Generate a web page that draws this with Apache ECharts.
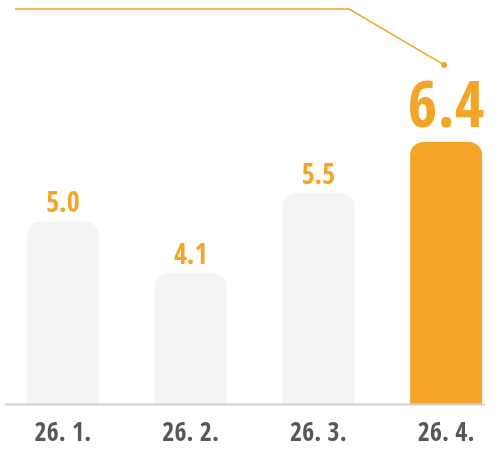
<!DOCTYPE html>
<html>
<head>
<meta charset="utf-8">
<script src="https://cdn.jsdelivr.net/npm/echarts@6/dist/echarts.min.js"></script>
<style>
  html, body { margin: 0; padding: 0; background: #fff; }
  #chart { width: 499px; height: 450px; }
</style>
</head>
<body>
<div id="chart"></div>
<script>
// Monthly values, last month highlighted
const months = ['26. 1.', '26. 2.', '26. 3.', '26. 4.'];
const values = [5.0, 4.1, 5.5, 6.4];

const ORANGE = '#F4A427';
const GREY_BAR = '#F4F4F4';
const FONT = '"Open Sans Condensed", "Roboto Condensed", sans-serif';

const lastIdx = values.length - 1;

const chart = echarts.init(document.getElementById('chart'), null, { renderer: 'canvas' });

const barData = values.map((v, i) => {
  const isLast = i === lastIdx;
  return {
    value: v,
    itemStyle: { color: isLast ? ORANGE : GREY_BAR },
    label: isLast
      ? { fontSize: 64, distance: 0 }
      : { fontSize: 28, distance: 3 }
  };
});

chart.setOption({
  animation: false,
  grid: { left: -1, width: 511, top: 5, height: 399.5, outerBoundsMode: 'none', containLabel: false },
  xAxis: {
    type: 'category',
    data: months,
    axisLine: { show: false },
    axisTick: { show: false },
    axisLabel: {
      margin: 17,
      color: '#575757',
      fontFamily: FONT,
      fontWeight: 'bold',
      fontSize: 26
    }
  },
  yAxis: {
    type: 'value',
    min: 1.8,
    max: 8.8,
    show: false,
    splitLine: { show: false }
  },
  series: [{
    type: 'bar',
    data: barData,
    barWidth: 72,
    itemStyle: { borderRadius: [13, 13, 0, 0] },
    label: {
      show: true,
      position: 'top',
      color: ORANGE,
      fontFamily: FONT,
      fontWeight: 'bold',
      formatter: p => p.value.toFixed(1)
    }
  }]
});

// Baseline and the leader line pointing at the highlighted value
const barTop = chart.convertToPixel({ gridIndex: 0 }, [lastIdx, values[lastIdx]]);
const base = chart.convertToPixel({ gridIndex: 0 }, [0, 1.8]);
const dot = [barTop[0] - 2, barTop[1] - 77];

chart.setOption({
  graphic: [
    {
      type: 'line',
      shape: { x1: 5, y1: base[1], x2: 485, y2: base[1] },
      style: { stroke: '#D0D0D0', lineWidth: 2 },
      z: 10
    },
    {
      type: 'polyline',
      shape: { points: [[15, 9], [dot[0] - 95, 9], dot] },
      style: { stroke: ORANGE, lineWidth: 1.5, fill: null }
    },
    {
      type: 'circle',
      shape: { cx: dot[0], cy: dot[1], r: 3 },
      style: { fill: ORANGE }
    }
  ]
});
</script>
</body>
</html>
